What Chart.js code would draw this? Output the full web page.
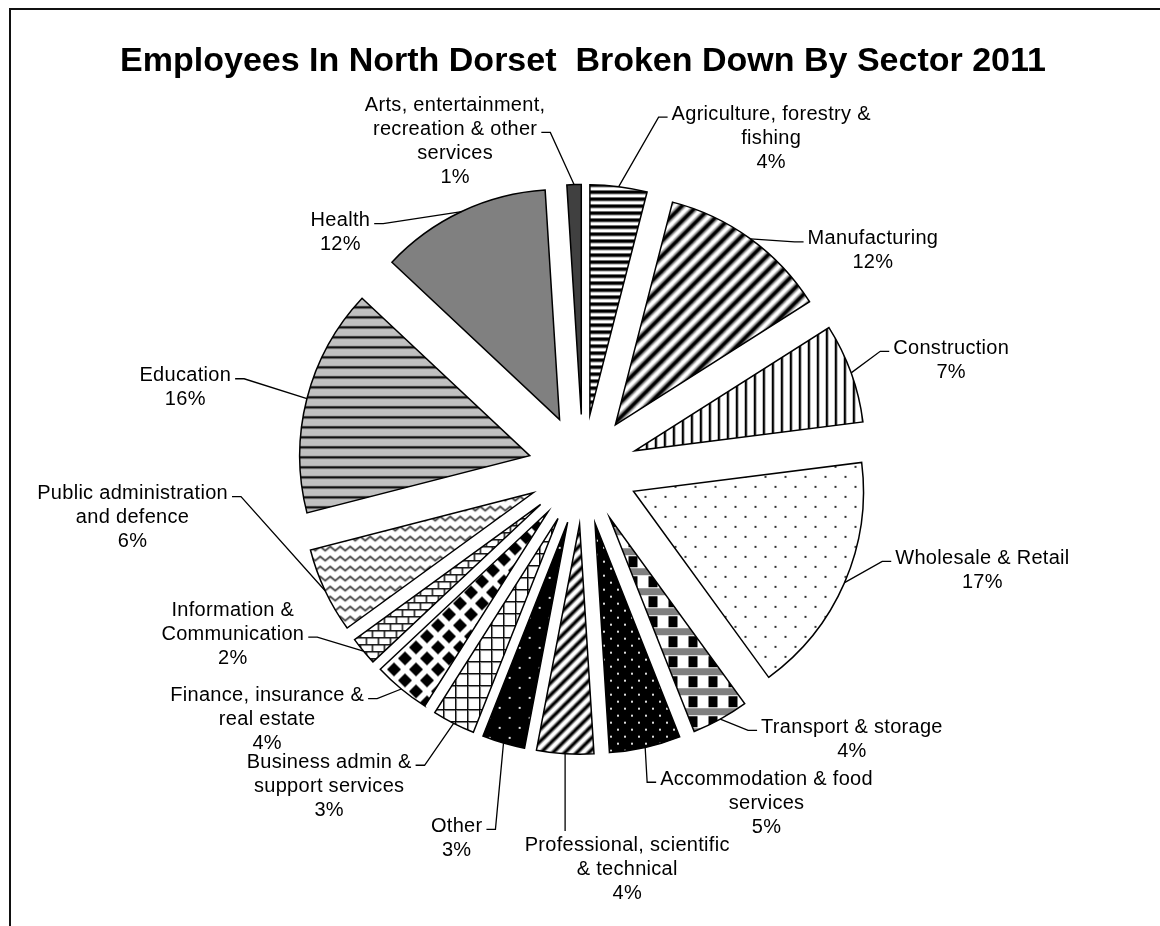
<!DOCTYPE html>
<html>
<head>
<meta charset="utf-8">
<title>Employees In North Dorset 2011</title>
<script src="https://cdn.jsdelivr.net/npm/chart.js@4.4.1/dist/chart.umd.min.js"></script>
<style>
  html, body { margin: 0; padding: 0; background: #fff; overflow: hidden; }
  .frame { position: absolute; left: 9px; top: 8px; width: 1400px; height: 1200px; border: 2px solid #111; }
  #sectorchart { position: absolute; left: 0; top: 0; }
</style>
</head>
<body>
<div class="frame"></div>
<canvas id="sectorchart" width="1160" height="926"></canvas>
<script>
// clockwise from 12 o'clock
const sectors = [
  ['Agriculture, forestry &', 'fishing'],
  ['Manufacturing'],
  ['Construction'],
  ['Wholesale & Retail'],
  ['Transport & storage'],
  ['Accommodation & food', 'services'],
  ['Professional, scientific', '& technical'],
  ['Other'],
  ['Business admin &', 'support services'],
  ['Finance, insurance &', 'real estate'],
  ['Information &', 'Communication'],
  ['Public administration', 'and defence'],
  ['Education'],
  ['Health'],
  ['Arts, entertainment,', 'recreation & other', 'services']
];
const shares = [4, 12, 7, 17, 4, 5, 4, 3, 3, 4, 2, 6, 16, 12, 1];

// label block centre: [angle deg, distance from pie centre, line the leader hooks onto]
const labelSpots = [
  [-60.4, 381, 0], [-37.0, 363, 0], [-16.5, 384, 0], [14.2, 412, 0],
  [45.1, 381, 0], [61.2, 381, 0], [83.7, 403, 0], [108.9, 390, 0],
  [128.7, 406, 0], [141.6, 403, 0], [154.8, 387, 1], [173.9, 453, 0],
  [191.6, 406, 0], [224.3, 339, 0], [248.7, 352, 1]
];

const EXPLODE = 55;
const LINE_H = 24;
const LABEL_FONT = '20px "Liberation Sans", Arial, sans-serif';

function tile(w, h, paint) {
  const c = document.createElement('canvas');
  c.width = w;
  c.height = h;
  const g = c.getContext('2d');
  paint(g, w, h);
  return g.createPattern(c, 'repeat');
}

function rows(colors) {
  return tile(1, colors.length, g => colors.forEach((c, i) => { g.fillStyle = c; g.fillRect(0, i, 1, 1); }));
}

function cols(colors) {
  return tile(colors.length, 1, g => colors.forEach((c, i) => { g.fillStyle = c; g.fillRect(i, 0, 1, 1); }));
}

function diagonal(size, bg, soft, hard, wide, thin) {
  return tile(size, size, g => {
    g.fillStyle = bg;
    g.fillRect(0, 0, size, size);
    [[soft, wide], [hard, thin]].forEach(([c, w]) => {
      g.strokeStyle = c;
      g.lineWidth = w;
      for (let k = -size; k <= size; k += size) {
        g.beginPath();
        g.moveTo(k - 2, size + 2);
        g.lineTo(k + size + 2, -2);
        g.stroke();
      }
    });
  });
}

function dots(size, bg, fg, pts, d) {
  return tile(size, size, g => {
    g.fillStyle = bg;
    g.fillRect(0, 0, size, size);
    g.fillStyle = fg;
    pts.forEach(([x, y]) => g.fillRect(x, y, d, d));
  });
}

const fills = [
  rows(['#000', '#000', '#000', '#777', '#fff', '#fff', '#fff']),
  diagonal(15, '#fff', '#999', '#000', 7, 3.5),
  cols(['#000', '#000', '#aaa', '#fff', '#fff', '#fff', '#fff', '#fff', '#fff']),
  dots(20, '#fff', '#333', [[4, 4], [14, 14]], 2),
  // plaid: fine checker band over a column of solid blocks
  tile(20, 20, g => {
    g.fillStyle = '#fff';
    g.fillRect(0, 0, 20, 20);
    g.fillStyle = '#000';
    for (let y = 0; y < 7; y++) {
      for (let x = 0; x < 20; x++) {
        if ((x + y) % 2 === 0) g.fillRect(x, y, 1, 1);
      }
    }
    g.fillRect(2, 8, 9, 11);
  }),
  dots(14, '#000', '#ddd', [[3, 3], [10, 10]], 2),
  diagonal(12, '#000', '#888', '#fff', 6, 3.5),
  dots(20, '#000', '#ddd', [[4, 4], [14, 14]], 2),
  tile(12, 12, g => {
    g.fillStyle = '#fff';
    g.fillRect(0, 0, 12, 12);
    g.fillStyle = '#888';
    g.fillRect(0, 1, 12, 1);
    g.fillRect(1, 0, 1, 12);
    g.fillStyle = '#000';
    g.fillRect(0, 0, 12, 1);
    g.fillRect(0, 0, 1, 12);
  }),
  tile(22, 22, g => {
    g.fillStyle = '#fff';
    g.fillRect(0, 0, 22, 22);
    g.fillStyle = '#000';
    [[11, 11], [0, 0], [22, 0], [0, 22], [22, 22]].forEach(([x, y]) => {
      g.beginPath();
      g.moveTo(x, y - 7);
      g.lineTo(x + 7, y);
      g.lineTo(x, y + 7);
      g.lineTo(x - 7, y);
      g.closePath();
      g.fill();
    });
  }),
  tile(12, 14, g => {
    g.fillStyle = '#fff';
    g.fillRect(0, 0, 12, 14);
    g.fillStyle = '#111';
    g.fillRect(0, 0, 12, 1.5);
    g.fillRect(0, 7, 12, 1.5);
    g.fillRect(0, 0, 1.5, 7);
    g.fillRect(6, 7, 1.5, 7);
  }),
  tile(10, 10, g => {
    g.fillStyle = '#fff';
    g.fillRect(0, 0, 10, 10);
    [['#bbb', 1, 1.2], ['#333', 0, 1.4]].forEach(([c, dy, w]) => {
      g.strokeStyle = c;
      g.lineWidth = w;
      g.beginPath();
      g.moveTo(-5, 7 + dy);
      g.lineTo(0, 3 + dy);
      g.lineTo(5, 7 + dy);
      g.lineTo(10, 3 + dy);
      g.lineTo(15, 7 + dy);
      g.stroke();
    });
  }),
  rows(['#111', '#111', '#909090', '#c8c8c8', '#c0c0c0', '#c0c0c0', '#c0c0c0', '#c0c0c0', '#c0c0c0', '#a8a8a8']),
  '#808080',
  '#404040'
];

// every slice is pushed out the same distance along its bisector
const arcDraw = Chart.ArcElement.prototype.draw;
Chart.ArcElement.prototype.draw = function (ctx) {
  const mid = (this.startAngle + this.endAngle) / 2;
  ctx.save();
  ctx.translate(Math.cos(mid) * EXPLODE, Math.sin(mid) * EXPLODE);
  arcDraw.call(this, ctx);
  ctx.restore();
};

const sectorLabels = {
  id: 'sectorLabels',
  afterDatasetsDraw(chart) {
    const ctx = chart.ctx;
    const arcs = chart.getDatasetMeta(0).data;
    const total = shares.reduce((a, b) => a + b, 0);
    ctx.save();
    ctx.font = LABEL_FONT;
    ctx.letterSpacing = '0.3px';
    ctx.fillStyle = '#000';
    ctx.strokeStyle = '#000';
    ctx.lineWidth = 1.3;
    ctx.textAlign = 'center';
    ctx.textBaseline = 'middle';
    arcs.forEach((arc, i) => {
      const {x, y, startAngle, endAngle, outerRadius} =
        arc.getProps(['x', 'y', 'startAngle', 'endAngle', 'outerRadius'], true);
      const mid = (startAngle + endAngle) / 2;
      const ax = x + Math.cos(mid) * (EXPLODE + outerRadius);
      const ay = y + Math.sin(mid) * (EXPLODE + outerRadius);
      const [deg, dist, hook] = labelSpots[i];
      const lx = x + Math.cos(deg * Math.PI / 180) * dist;
      const ly = y + Math.sin(deg * Math.PI / 180) * dist;
      const lines = [...sectors[i], Math.round(shares[i] / total * 100) + '%'];
      const top = ly - (lines.length - 1) * LINE_H / 2;
      lines.forEach((t, k) => ctx.fillText(t, lx, top + k * LINE_H));

      const half = ctx.measureText(lines[hook]).width / 2;
      ctx.beginPath();
      if (Math.abs(ax - lx) < half) {
        ctx.moveTo(ax, ay);
        ctx.lineTo(ax, ay < ly ? top - 15 : top + (lines.length - 1) * LINE_H + 15);
      } else {
        const side = ax > lx ? 1 : -1;
        const sx = lx + side * (half + 4);
        const sy = top + hook * LINE_H + 3;
        ctx.moveTo(sx, sy);
        ctx.lineTo(sx + side * 9, sy);
        ctx.lineTo(ax, ay);
      }
      ctx.stroke();
    });
    ctx.restore();
  }
};

const sectorChart = new Chart(document.querySelector('#sectorchart'), {
  type: 'pie',
  data: {
    labels: sectors,
    datasets: [{
      data: shares,
      backgroundColor: fills,
      borderColor: '#000',
      borderWidth: 1.5,
      borderJoinStyle: 'miter',
      clip: false
    }]
  },
  options: {
    responsive: false,
    animation: false,
    devicePixelRatio: 1,
    radius: 230,
    layout: {
      padding: { left: 6, right: 0, top: 0, bottom: 69 }
    },
    plugins: {
      legend: { display: false },
      tooltip: { enabled: false },
      title: {
        display: true,
        text: 'Employees In North Dorset  Broken Down By Sector 2011',
        color: '#000',
        font: { family: '"Liberation Sans", Arial, sans-serif', size: 34, weight: 'bold' },
        padding: { top: 41, bottom: 0 }
      }
    }
  },
  plugins: [sectorLabels]
});
</script>
</body>
</html>
